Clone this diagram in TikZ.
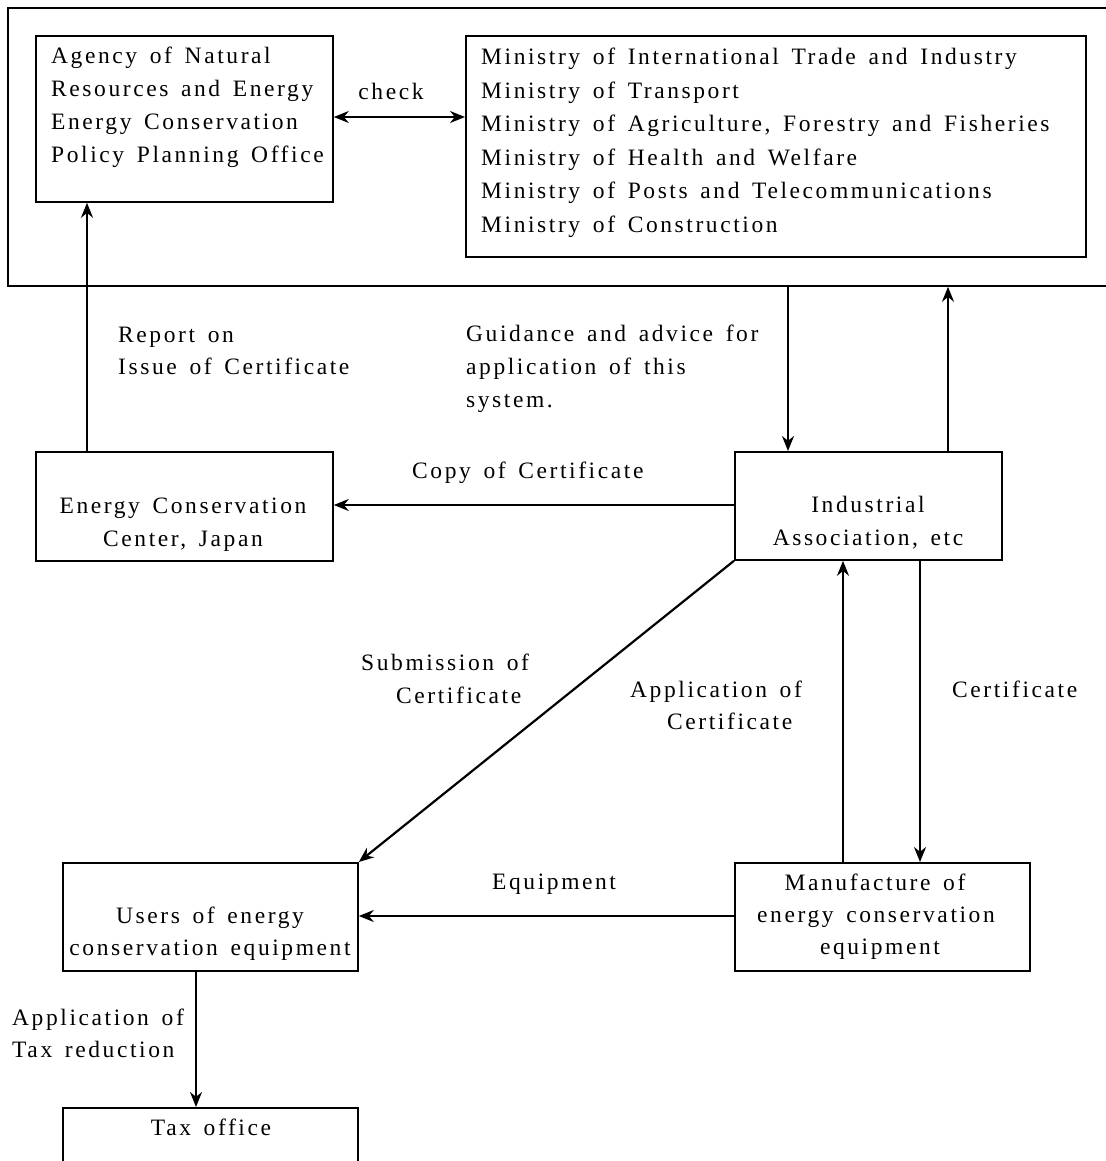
\documentclass[tikz,border=0pt]{standalone}
\usepackage{fontspec}
\setmainfont[LetterSpace=11,WordSpace=1.5]{Liberation Serif}
\usetikzlibrary{arrows.meta}
\begin{document}
\begin{tikzpicture}[x=1pt,y=-1pt,
  box/.style={draw, line width=1.8pt, inner sep=0pt, anchor=north west},
  tx/.style={inner sep=0pt, font=\fontsize{23.5}{33}\selectfont},
  tip/.tip={Stealth[length=15pt,width=12pt]},
  arr/.style={line width=2.2pt, -tip},
  darr/.style={line width=1.8pt, tip-tip}]
\useasboundingbox (0,0) rectangle (1105,1161);

% helper coordinates
\coordinate (chk) at (0,117);
\coordinate (xA) at (87,0);
\coordinate (xB) at (788,0);
\coordinate (xC) at (948,0);
\coordinate (yCopy) at (0,505);
\coordinate (xD) at (843,0);
\coordinate (xE) at (920,0);
\coordinate (yEq) at (0,916);
\coordinate (xF) at (196,0);

% boxes
\node[box, minimum width=1120pt, minimum height=278pt] (frame) at (7,7) {};
\node[box, minimum width=297pt, minimum height=166pt] (agency) at (35,35) {};
\node[box, minimum width=620pt, minimum height=221pt] (ministry) at (465,35) {};
\node[box, minimum width=297pt, minimum height=109pt] (ecc) at (35,451) {};
\node[box, minimum width=267pt, minimum height=108pt] (ind) at (734,451) {};
\node[box, minimum width=295pt, minimum height=108pt] (users) at (62,862) {};
\node[box, minimum width=295pt, minimum height=108pt] (manu) at (734,862) {};
\node[box, minimum width=295pt, minimum height=100pt] (tax) at (62,1107) {};

% box texts
\node[tx, anchor=base west] (ag1) at (51,64) {Agency of Natural};
\node[tx, anchor=base west] (ag2) at (51,97) {Resources and Energy};
\node[tx, anchor=base west] (ag3) at (51,130) {Energy Conservation};
\node[tx, anchor=base west] (ag4) at (51,163) {Policy Planning Office};

\node[tx, anchor=base west] (mi1) at (481,65) {Ministry of International Trade and Industry};
\node[tx, anchor=base west] (mi2) at (481,98.5) {Ministry of Transport};
\node[tx, anchor=base west] (mi3) at (481,132) {Ministry of Agriculture, Forestry and Fisheries};
\node[tx, anchor=base west] (mi4) at (481,165.5) {Ministry of Health and Welfare};
\node[tx, anchor=base west] (mi5) at (481,199) {Ministry of Posts and Telecommunications};
\node[tx, anchor=base west] (mi6) at (481,232.5) {Ministry of Construction};

\node[tx, anchor=base] (ec1) at (183,513) {Energy Conservation};
\node[tx, anchor=base] (ec2) at (183,546) {Center, Japan};

\node[tx, anchor=base] (in1) at (868,512) {Industrial};
\node[tx, anchor=base] (in2) at (868,545) {Association, etc};

\node[tx, anchor=base] (us1) at (210,923) {Users of energy};
\node[tx, anchor=base] (us2) at (210,955) {conservation equipment};

\node[tx, anchor=base] (ma1) at (875,890) {Manufacture of};
\node[tx, anchor=base] (ma2) at (876,922) {energy conservation};
\node[tx, anchor=base] (ma3) at (880,954) {equipment};

\node[tx, anchor=base] (tx1) at (211,1135) {Tax office};

% connector labels
\node[tx, anchor=base] (lchk) at (391,100) {check};
\node[tx, anchor=base west] (lrep1) at (118,342) {Report on};
\node[tx, anchor=base west] (lrep2) at (118,374) {Issue of Certificate};
\node[tx, anchor=base west] (lgd1) at (466,341) {Guidance and advice for};
\node[tx, anchor=base west] (lgd2) at (466,374) {application of this};
\node[tx, anchor=base west] (lgd3) at (466,407) {system.};
\node[tx, anchor=base west] (lcopy) at (412,478) {Copy of Certificate};
\node[tx, anchor=base west] (lsub1) at (361,670) {Submission of};
\node[tx, anchor=base west] (lsub2) at (396,703) {Certificate};
\node[tx, anchor=base west] (lapp1) at (630,697) {Application of};
\node[tx, anchor=base west] (lapp2) at (667,729) {Certificate};
\node[tx, anchor=base west] (lcert) at (952,697) {Certificate};
\node[tx, anchor=base west] (lequip) at (492,889) {Equipment};
\node[tx, anchor=base west] (ltax1) at (12,1025) {Application of};
\node[tx, anchor=base west] (ltax2) at (12,1057) {Tax reduction};

% connectors
\draw[darr] (agency.east |- chk) -- (ministry.west |- chk);
\draw[arr] (ecc.north -| xA) -- (agency.south -| xA);
\draw[arr] (frame.south -| xB) -- (ind.north -| xB);
\draw[arr] (ind.north -| xC) -- (frame.south -| xC);
\draw[arr] (ind.west |- yCopy) -- (ecc.east |- yCopy);
\draw[arr] (ind.south west) -- (users.north east);
\draw[arr] (manu.north -| xD) -- (ind.south -| xD);
\draw[arr] (ind.south -| xE) -- (manu.north -| xE);
\draw[arr] (manu.west |- yEq) -- (users.east |- yEq);
\draw[arr] (users.south -| xF) -- (tax.north -| xF);
\end{tikzpicture}
\end{document}
